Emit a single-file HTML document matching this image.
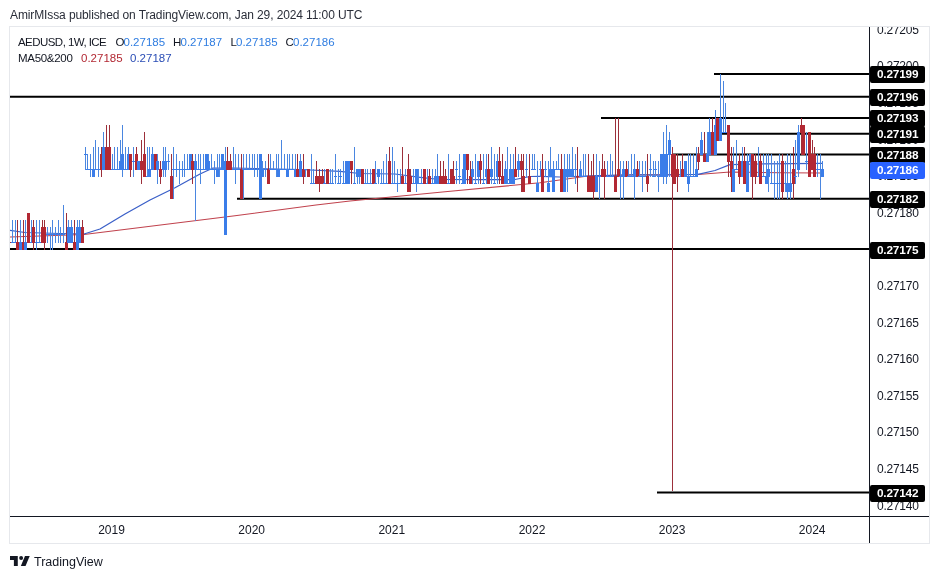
<!DOCTYPE html>
<html><head><meta charset="utf-8"><title>AEDUSD chart</title>
<style>
html,body{margin:0;padding:0;background:#fff;}
body{width:939px;height:579px;position:relative;overflow:hidden;font-family:"Liberation Sans","DejaVu Sans",sans-serif;color:#131722;}
.hdr{position:absolute;left:10px;top:7px;font-size:12px;line-height:16px;white-space:nowrap;letter-spacing:-0.11px;color:#2a2e39}
.frame{position:absolute;left:9px;top:26px;width:921px;height:518px;border:1px solid #e6e8ec;box-sizing:border-box;background:#fff}
.pane{position:absolute;left:10px;top:27px;width:860px;height:489px;overflow:hidden}
.axisv{position:absolute;left:869px;top:27px;width:1px;height:516px;background:#131722}
.axish{position:absolute;left:10px;top:516px;width:919px;height:1px;background:#131722}
.scale{position:absolute;left:870px;top:27px;width:58px;height:489px;overflow:hidden}
.pl{position:absolute;left:7px;width:48px;height:16px;line-height:16px;font-size:12px;letter-spacing:-0.25px;color:#131722;white-space:nowrap;margin-top:-27px}
.pb{position:absolute;left:0;width:55px;height:17px;line-height:17px;font-size:11.8px;font-weight:bold;color:#fff;background:#000;border-radius:2px;text-indent:7px;white-space:nowrap;margin-top:-27px;letter-spacing:-0.2px}
.pb.cur{background:#2962ff}
.yr{position:absolute;top:522px;width:40px;text-align:center;font-size:12px;line-height:16px}
.lg{position:absolute;font-size:11.5px;line-height:16px;white-space:nowrap;color:#131722}
.lg span{position:absolute;top:0}
.b1{color:#2f7de1} .r2{color:#b22833} .b2{color:#2a4db5}
.logo{position:absolute;left:10px;top:556px}
.tv{position:absolute;left:34px;top:553.5px;font-size:12.5px;line-height:16px;color:#131722;letter-spacing:0px}
</style></head><body>
<div class="hdr">AmirMIssa published on TradingView.com, Jan 29, 2024 11:00 UTC</div>
<div class="frame"></div>
<div class="pane">
<svg width="860" height="489" viewBox="10 27 860 489" style="position:absolute;left:0;top:0" shape-rendering="crispEdges">
<g shape-rendering="geometricPrecision">
<line x1="714" y1="74" x2="870" y2="74" stroke="#000" stroke-width="2"/>
<line x1="10" y1="96.8" x2="870" y2="96.8" stroke="#000" stroke-width="2"/>
<line x1="601" y1="118" x2="870" y2="118" stroke="#000" stroke-width="2"/>
<line x1="722" y1="133.8" x2="870" y2="133.8" stroke="#000" stroke-width="2"/>
<line x1="672" y1="154.6" x2="870" y2="154.6" stroke="#000" stroke-width="2"/>
<line x1="237" y1="198.8" x2="870" y2="198.8" stroke="#000" stroke-width="2"/>
<line x1="10" y1="249.1" x2="870" y2="249.1" stroke="#000" stroke-width="2"/>
<line x1="657" y1="492.4" x2="870" y2="492.4" stroke="#000" stroke-width="2"/>
<polyline points="10.0,237.0 84.0,234.5 235.0,215.8 316.0,205.0 350.0,201.0 445.0,191.8 540.0,182.8 588.0,176.0 635.0,174.8 698.0,174.5 730.0,172.0 780.0,172.8 822.0,173.0" fill="none" stroke="#c0424d" stroke-width="1.05" stroke-linejoin="round"/>
<polyline points="10.0,230.3 25.0,232.5 60.0,233.5 84.0,234.0 100.0,229.0 125.0,214.0 150.0,200.0 175.0,187.7 200.0,174.0 213.0,168.0 235.0,168.0 255.0,168.5 300.0,169.5 340.0,171.3 360.0,173.5 395.0,174.0 420.0,177.3 440.0,179.5 480.0,179.7 515.0,179.5 530.0,176.5 540.0,176.3 560.0,177.0 600.0,175.5 635.0,174.9 660.0,175.0 698.0,174.3 715.0,170.5 730.0,164.6 760.0,164.0 822.0,163.4" fill="none" stroke="#3a5fc8" stroke-width="1.25" stroke-linejoin="round"/>
</g>
<rect x="9" y="219.8" width="1" height="30.2" fill="#9c2f3a"/>
<rect x="8" y="241.7" width="3" height="1.0" fill="#b22833"/>
<rect x="12" y="219.8" width="1" height="22.9" fill="#4a86e0"/>
<rect x="11" y="241.7" width="3" height="1.0" fill="#3b7de9"/>
<rect x="15" y="219.8" width="1" height="22.9" fill="#4a86e0"/>
<rect x="14" y="241.7" width="3" height="1.0" fill="#3b7de9"/>
<rect x="17" y="219.8" width="1" height="30.2" fill="#9c2f3a"/>
<rect x="16" y="241.7" width="3" height="8.3" fill="#b22833"/>
<rect x="20" y="219.8" width="1" height="30.2" fill="#4a86e0"/>
<rect x="19" y="241.7" width="3" height="8.3" fill="#3b7de9"/>
<rect x="23" y="219.8" width="1" height="30.2" fill="#9c2f3a"/>
<rect x="22" y="241.7" width="3" height="8.3" fill="#b22833"/>
<rect x="25" y="219.8" width="1" height="30.2" fill="#4a86e0"/>
<rect x="24" y="241.7" width="3" height="8.3" fill="#3b7de9"/>
<rect x="28" y="212.5" width="1" height="30.2" fill="#9c2f3a"/>
<rect x="27" y="212.5" width="3" height="30.2" fill="#b22833"/>
<rect x="31" y="219.8" width="1" height="22.9" fill="#4a86e0"/>
<rect x="30" y="241.7" width="3" height="1.0" fill="#3b7de9"/>
<rect x="33" y="219.8" width="1" height="30.2" fill="#9c2f3a"/>
<rect x="32" y="227.1" width="3" height="15.6" fill="#b22833"/>
<rect x="36" y="219.8" width="1" height="30.2" fill="#4a86e0"/>
<rect x="35" y="241.7" width="3" height="1.0" fill="#3b7de9"/>
<rect x="39" y="219.8" width="1" height="22.9" fill="#4a86e0"/>
<rect x="38" y="241.7" width="3" height="1.0" fill="#3b7de9"/>
<rect x="42" y="219.8" width="1" height="22.9" fill="#9c2f3a"/>
<rect x="41" y="227.1" width="3" height="15.6" fill="#b22833"/>
<rect x="44" y="219.8" width="1" height="30.2" fill="#9c2f3a"/>
<rect x="43" y="227.1" width="3" height="15.6" fill="#b22833"/>
<rect x="47" y="227.1" width="1" height="15.6" fill="#4a86e0"/>
<rect x="46" y="234.4" width="3" height="1.0" fill="#3b7de9"/>
<rect x="50" y="227.1" width="1" height="22.9" fill="#4a86e0"/>
<rect x="49" y="234.4" width="3" height="1.0" fill="#3b7de9"/>
<rect x="52" y="219.8" width="1" height="30.2" fill="#4a86e0"/>
<rect x="51" y="234.4" width="3" height="1.0" fill="#3b7de9"/>
<rect x="55" y="227.1" width="1" height="15.6" fill="#4a86e0"/>
<rect x="54" y="234.4" width="3" height="1.0" fill="#3b7de9"/>
<rect x="58" y="219.8" width="1" height="22.9" fill="#4a86e0"/>
<rect x="57" y="234.4" width="3" height="1.0" fill="#3b7de9"/>
<rect x="60" y="227.1" width="1" height="15.6" fill="#4a86e0"/>
<rect x="59" y="234.4" width="3" height="1.0" fill="#3b7de9"/>
<rect x="63" y="205.2" width="1" height="37.5" fill="#4a86e0"/>
<rect x="62" y="234.4" width="3" height="1.0" fill="#3b7de9"/>
<rect x="66" y="212.5" width="1" height="37.5" fill="#9c2f3a"/>
<rect x="65" y="241.7" width="3" height="8.3" fill="#b22833"/>
<rect x="68" y="219.8" width="1" height="22.9" fill="#4a86e0"/>
<rect x="67" y="227.1" width="3" height="15.6" fill="#3b7de9"/>
<rect x="71" y="219.8" width="1" height="22.9" fill="#4a86e0"/>
<rect x="70" y="227.1" width="3" height="15.6" fill="#3b7de9"/>
<rect x="74" y="219.8" width="1" height="30.2" fill="#9c2f3a"/>
<rect x="73" y="241.7" width="3" height="8.3" fill="#b22833"/>
<rect x="77" y="219.8" width="1" height="30.2" fill="#4a86e0"/>
<rect x="76" y="227.1" width="3" height="22.9" fill="#3b7de9"/>
<rect x="79" y="219.8" width="1" height="22.9" fill="#4a86e0"/>
<rect x="78" y="227.1" width="3" height="15.6" fill="#3b7de9"/>
<rect x="82" y="219.8" width="1" height="22.9" fill="#9c2f3a"/>
<rect x="81" y="227.1" width="3" height="15.6" fill="#b22833"/>
<rect x="85" y="146.8" width="1" height="22.9" fill="#4a86e0"/>
<rect x="84" y="154.1" width="3" height="1.0" fill="#3b7de9"/>
<rect x="87" y="154.1" width="1" height="15.6" fill="#4a86e0"/>
<rect x="86" y="168.7" width="3" height="1.0" fill="#3b7de9"/>
<rect x="90" y="154.1" width="1" height="22.9" fill="#4a86e0"/>
<rect x="89" y="168.7" width="3" height="1.0" fill="#3b7de9"/>
<rect x="93" y="146.8" width="1" height="30.2" fill="#4a86e0"/>
<rect x="92" y="168.7" width="3" height="8.3" fill="#3b7de9"/>
<rect x="95" y="139.5" width="1" height="30.2" fill="#4a86e0"/>
<rect x="94" y="168.7" width="3" height="1.0" fill="#3b7de9"/>
<rect x="98" y="146.8" width="1" height="30.2" fill="#4a86e0"/>
<rect x="97" y="168.7" width="3" height="1.0" fill="#3b7de9"/>
<rect x="101" y="146.8" width="1" height="30.2" fill="#9c2f3a"/>
<rect x="100" y="154.1" width="3" height="15.6" fill="#b22833"/>
<rect x="103" y="132.2" width="1" height="37.5" fill="#4a86e0"/>
<rect x="102" y="146.8" width="3" height="22.9" fill="#3b7de9"/>
<rect x="106" y="124.9" width="1" height="44.8" fill="#9c2f3a"/>
<rect x="105" y="146.8" width="3" height="22.9" fill="#b22833"/>
<rect x="109" y="124.9" width="1" height="44.8" fill="#9c2f3a"/>
<rect x="108" y="146.8" width="3" height="22.9" fill="#b22833"/>
<rect x="112" y="154.1" width="1" height="15.6" fill="#4a86e0"/>
<rect x="111" y="168.7" width="3" height="1.0" fill="#3b7de9"/>
<rect x="114" y="146.8" width="1" height="22.9" fill="#4a86e0"/>
<rect x="113" y="168.7" width="3" height="1.0" fill="#3b7de9"/>
<rect x="117" y="146.8" width="1" height="22.9" fill="#4a86e0"/>
<rect x="116" y="168.7" width="3" height="1.0" fill="#3b7de9"/>
<rect x="120" y="139.5" width="1" height="30.2" fill="#4a86e0"/>
<rect x="119" y="161.4" width="3" height="8.3" fill="#3b7de9"/>
<rect x="122" y="124.9" width="1" height="52.1" fill="#4a86e0"/>
<rect x="121" y="154.1" width="3" height="15.6" fill="#3b7de9"/>
<rect x="125" y="146.8" width="1" height="22.9" fill="#4a86e0"/>
<rect x="124" y="168.7" width="3" height="1.0" fill="#3b7de9"/>
<rect x="128" y="146.8" width="1" height="22.9" fill="#4a86e0"/>
<rect x="127" y="154.1" width="3" height="15.6" fill="#3b7de9"/>
<rect x="130" y="154.1" width="1" height="22.9" fill="#9c2f3a"/>
<rect x="129" y="154.1" width="3" height="15.6" fill="#b22833"/>
<rect x="133" y="146.8" width="1" height="30.2" fill="#4a86e0"/>
<rect x="132" y="161.4" width="3" height="1.0" fill="#3b7de9"/>
<rect x="136" y="146.8" width="1" height="22.9" fill="#9c2f3a"/>
<rect x="135" y="154.1" width="3" height="15.6" fill="#b22833"/>
<rect x="138" y="161.4" width="1" height="8.3" fill="#4a86e0"/>
<rect x="137" y="161.4" width="3" height="8.3" fill="#3b7de9"/>
<rect x="141" y="139.5" width="1" height="44.8" fill="#9c2f3a"/>
<rect x="140" y="161.4" width="3" height="8.3" fill="#b22833"/>
<rect x="144" y="132.2" width="1" height="44.8" fill="#9c2f3a"/>
<rect x="143" y="154.1" width="3" height="22.9" fill="#b22833"/>
<rect x="147" y="146.8" width="1" height="30.2" fill="#4a86e0"/>
<rect x="146" y="176.0" width="3" height="1.0" fill="#3b7de9"/>
<rect x="149" y="146.8" width="1" height="30.2" fill="#4a86e0"/>
<rect x="148" y="168.7" width="3" height="8.3" fill="#3b7de9"/>
<rect x="152" y="146.8" width="1" height="22.9" fill="#4a86e0"/>
<rect x="151" y="154.1" width="3" height="15.6" fill="#3b7de9"/>
<rect x="155" y="154.1" width="1" height="15.6" fill="#9c2f3a"/>
<rect x="154" y="154.1" width="3" height="15.6" fill="#b22833"/>
<rect x="157" y="154.1" width="1" height="30.2" fill="#4a86e0"/>
<rect x="156" y="161.4" width="3" height="8.3" fill="#3b7de9"/>
<rect x="160" y="161.4" width="1" height="22.9" fill="#9c2f3a"/>
<rect x="159" y="168.7" width="3" height="8.3" fill="#b22833"/>
<rect x="163" y="146.8" width="1" height="30.2" fill="#4a86e0"/>
<rect x="162" y="161.4" width="3" height="8.3" fill="#3b7de9"/>
<rect x="165" y="146.8" width="1" height="30.2" fill="#4a86e0"/>
<rect x="164" y="161.4" width="3" height="8.3" fill="#3b7de9"/>
<rect x="168" y="154.1" width="1" height="15.6" fill="#4a86e0"/>
<rect x="167" y="161.4" width="3" height="1.0" fill="#3b7de9"/>
<rect x="171" y="154.1" width="1" height="44.8" fill="#9c2f3a"/>
<rect x="170" y="176.0" width="3" height="22.9" fill="#b22833"/>
<rect x="173" y="146.8" width="1" height="52.1" fill="#4a86e0"/>
<rect x="172" y="168.7" width="3" height="1.0" fill="#3b7de9"/>
<rect x="176" y="154.1" width="1" height="22.9" fill="#4a86e0"/>
<rect x="175" y="168.7" width="3" height="1.0" fill="#3b7de9"/>
<rect x="179" y="161.4" width="1" height="22.9" fill="#4a86e0"/>
<rect x="178" y="168.7" width="3" height="1.0" fill="#3b7de9"/>
<rect x="182" y="161.4" width="1" height="15.6" fill="#4a86e0"/>
<rect x="181" y="168.7" width="3" height="1.0" fill="#3b7de9"/>
<rect x="184" y="154.1" width="1" height="22.9" fill="#4a86e0"/>
<rect x="183" y="168.7" width="3" height="1.0" fill="#3b7de9"/>
<rect x="187" y="154.1" width="1" height="15.6" fill="#4a86e0"/>
<rect x="186" y="168.7" width="3" height="1.0" fill="#3b7de9"/>
<rect x="190" y="154.1" width="1" height="15.6" fill="#4a86e0"/>
<rect x="189" y="154.1" width="3" height="15.6" fill="#3b7de9"/>
<rect x="192" y="154.1" width="1" height="30.2" fill="#9c2f3a"/>
<rect x="191" y="161.4" width="3" height="8.3" fill="#b22833"/>
<rect x="195" y="154.1" width="1" height="66.7" fill="#4a86e0"/>
<rect x="194" y="161.4" width="3" height="8.3" fill="#3b7de9"/>
<rect x="198" y="154.1" width="1" height="15.6" fill="#4a86e0"/>
<rect x="197" y="168.7" width="3" height="1.0" fill="#3b7de9"/>
<rect x="200" y="154.1" width="1" height="30.2" fill="#4a86e0"/>
<rect x="199" y="168.7" width="3" height="1.0" fill="#3b7de9"/>
<rect x="203" y="154.1" width="1" height="15.6" fill="#4a86e0"/>
<rect x="202" y="168.7" width="3" height="1.0" fill="#3b7de9"/>
<rect x="206" y="154.1" width="1" height="15.6" fill="#4a86e0"/>
<rect x="205" y="154.1" width="3" height="15.6" fill="#3b7de9"/>
<rect x="208" y="154.1" width="1" height="15.6" fill="#4a86e0"/>
<rect x="207" y="161.4" width="3" height="8.3" fill="#3b7de9"/>
<rect x="211" y="154.1" width="1" height="15.6" fill="#4a86e0"/>
<rect x="210" y="168.7" width="3" height="1.0" fill="#3b7de9"/>
<rect x="214" y="161.4" width="1" height="22.9" fill="#4a86e0"/>
<rect x="213" y="168.7" width="3" height="1.0" fill="#3b7de9"/>
<rect x="217" y="154.1" width="1" height="22.9" fill="#4a86e0"/>
<rect x="216" y="168.7" width="3" height="8.3" fill="#3b7de9"/>
<rect x="219" y="154.1" width="1" height="22.9" fill="#4a86e0"/>
<rect x="218" y="168.7" width="3" height="1.0" fill="#3b7de9"/>
<rect x="222" y="154.1" width="1" height="15.6" fill="#4a86e0"/>
<rect x="221" y="154.1" width="3" height="15.6" fill="#3b7de9"/>
<rect x="225" y="146.8" width="1" height="88.6" fill="#4a86e0"/>
<rect x="224" y="161.4" width="3" height="74.0" fill="#3b7de9"/>
<rect x="227" y="146.8" width="1" height="22.9" fill="#9c2f3a"/>
<rect x="226" y="161.4" width="3" height="8.3" fill="#b22833"/>
<rect x="230" y="154.1" width="1" height="15.6" fill="#9c2f3a"/>
<rect x="229" y="161.4" width="3" height="8.3" fill="#b22833"/>
<rect x="233" y="146.8" width="1" height="22.9" fill="#4a86e0"/>
<rect x="232" y="168.7" width="3" height="1.0" fill="#3b7de9"/>
<rect x="235" y="154.1" width="1" height="30.2" fill="#4a86e0"/>
<rect x="234" y="168.7" width="3" height="1.0" fill="#3b7de9"/>
<rect x="238" y="154.1" width="1" height="15.6" fill="#4a86e0"/>
<rect x="237" y="168.7" width="3" height="1.0" fill="#3b7de9"/>
<rect x="241" y="154.1" width="1" height="44.8" fill="#9c2f3a"/>
<rect x="240" y="168.7" width="3" height="30.2" fill="#b22833"/>
<rect x="243" y="154.1" width="1" height="44.8" fill="#4a86e0"/>
<rect x="242" y="168.7" width="3" height="1.0" fill="#3b7de9"/>
<rect x="246" y="154.1" width="1" height="15.6" fill="#4a86e0"/>
<rect x="245" y="168.7" width="3" height="1.0" fill="#3b7de9"/>
<rect x="249" y="154.1" width="1" height="15.6" fill="#4a86e0"/>
<rect x="248" y="168.7" width="3" height="1.0" fill="#3b7de9"/>
<rect x="252" y="154.1" width="1" height="15.6" fill="#4a86e0"/>
<rect x="251" y="168.7" width="3" height="1.0" fill="#3b7de9"/>
<rect x="254" y="154.1" width="1" height="22.9" fill="#4a86e0"/>
<rect x="253" y="168.7" width="3" height="1.0" fill="#3b7de9"/>
<rect x="257" y="154.1" width="1" height="22.9" fill="#4a86e0"/>
<rect x="256" y="168.7" width="3" height="1.0" fill="#3b7de9"/>
<rect x="260" y="154.1" width="1" height="44.8" fill="#4a86e0"/>
<rect x="259" y="154.1" width="3" height="44.8" fill="#3b7de9"/>
<rect x="262" y="161.4" width="1" height="15.6" fill="#4a86e0"/>
<rect x="261" y="168.7" width="3" height="8.3" fill="#3b7de9"/>
<rect x="265" y="161.4" width="1" height="15.6" fill="#4a86e0"/>
<rect x="264" y="168.7" width="3" height="1.0" fill="#3b7de9"/>
<rect x="268" y="154.1" width="1" height="30.2" fill="#9c2f3a"/>
<rect x="267" y="168.7" width="3" height="15.6" fill="#b22833"/>
<rect x="270" y="154.1" width="1" height="15.6" fill="#4a86e0"/>
<rect x="269" y="168.7" width="3" height="1.0" fill="#3b7de9"/>
<rect x="273" y="161.4" width="1" height="8.3" fill="#4a86e0"/>
<rect x="272" y="168.7" width="3" height="1.0" fill="#3b7de9"/>
<rect x="276" y="154.1" width="1" height="22.9" fill="#4a86e0"/>
<rect x="275" y="168.7" width="3" height="1.0" fill="#3b7de9"/>
<rect x="278" y="154.1" width="1" height="22.9" fill="#4a86e0"/>
<rect x="277" y="168.7" width="3" height="8.3" fill="#3b7de9"/>
<rect x="281" y="139.5" width="1" height="30.2" fill="#4a86e0"/>
<rect x="280" y="168.7" width="3" height="1.0" fill="#3b7de9"/>
<rect x="284" y="154.1" width="1" height="15.6" fill="#4a86e0"/>
<rect x="283" y="168.7" width="3" height="1.0" fill="#3b7de9"/>
<rect x="287" y="154.1" width="1" height="22.9" fill="#4a86e0"/>
<rect x="286" y="168.7" width="3" height="8.3" fill="#3b7de9"/>
<rect x="289" y="154.1" width="1" height="15.6" fill="#4a86e0"/>
<rect x="288" y="168.7" width="3" height="1.0" fill="#3b7de9"/>
<rect x="292" y="154.1" width="1" height="15.6" fill="#4a86e0"/>
<rect x="291" y="168.7" width="3" height="1.0" fill="#3b7de9"/>
<rect x="295" y="154.1" width="1" height="22.9" fill="#4a86e0"/>
<rect x="294" y="168.7" width="3" height="8.3" fill="#3b7de9"/>
<rect x="297" y="154.1" width="1" height="22.9" fill="#9c2f3a"/>
<rect x="296" y="168.7" width="3" height="8.3" fill="#b22833"/>
<rect x="300" y="154.1" width="1" height="22.9" fill="#4a86e0"/>
<rect x="299" y="161.4" width="3" height="15.6" fill="#3b7de9"/>
<rect x="303" y="154.1" width="1" height="30.2" fill="#9c2f3a"/>
<rect x="302" y="168.7" width="3" height="8.3" fill="#b22833"/>
<rect x="305" y="168.7" width="1" height="8.3" fill="#4a86e0"/>
<rect x="304" y="168.7" width="3" height="1.0" fill="#3b7de9"/>
<rect x="308" y="168.7" width="1" height="8.3" fill="#9c2f3a"/>
<rect x="307" y="168.7" width="3" height="8.3" fill="#b22833"/>
<rect x="311" y="154.1" width="1" height="30.2" fill="#4a86e0"/>
<rect x="310" y="183.3" width="3" height="1.0" fill="#3b7de9"/>
<rect x="313" y="168.7" width="1" height="15.6" fill="#4a86e0"/>
<rect x="312" y="183.3" width="3" height="1.0" fill="#3b7de9"/>
<rect x="316" y="161.4" width="1" height="22.9" fill="#9c2f3a"/>
<rect x="315" y="176.0" width="3" height="8.3" fill="#b22833"/>
<rect x="319" y="168.7" width="1" height="22.9" fill="#9c2f3a"/>
<rect x="318" y="176.0" width="3" height="8.3" fill="#b22833"/>
<rect x="322" y="168.7" width="1" height="15.6" fill="#9c2f3a"/>
<rect x="321" y="176.0" width="3" height="8.3" fill="#b22833"/>
<rect x="324" y="168.7" width="1" height="15.6" fill="#4a86e0"/>
<rect x="323" y="183.3" width="3" height="1.0" fill="#3b7de9"/>
<rect x="327" y="168.7" width="1" height="15.6" fill="#9c2f3a"/>
<rect x="326" y="168.7" width="3" height="15.6" fill="#b22833"/>
<rect x="330" y="168.7" width="1" height="15.6" fill="#4a86e0"/>
<rect x="329" y="183.3" width="3" height="1.0" fill="#3b7de9"/>
<rect x="332" y="168.7" width="1" height="15.6" fill="#4a86e0"/>
<rect x="331" y="183.3" width="3" height="1.0" fill="#3b7de9"/>
<rect x="335" y="154.1" width="1" height="30.2" fill="#4a86e0"/>
<rect x="334" y="176.0" width="3" height="1.0" fill="#3b7de9"/>
<rect x="338" y="168.7" width="1" height="15.6" fill="#4a86e0"/>
<rect x="337" y="183.3" width="3" height="1.0" fill="#3b7de9"/>
<rect x="340" y="168.7" width="1" height="15.6" fill="#4a86e0"/>
<rect x="339" y="176.0" width="3" height="1.0" fill="#3b7de9"/>
<rect x="343" y="161.4" width="1" height="22.9" fill="#4a86e0"/>
<rect x="342" y="183.3" width="3" height="1.0" fill="#3b7de9"/>
<rect x="346" y="161.4" width="1" height="22.9" fill="#4a86e0"/>
<rect x="345" y="161.4" width="3" height="22.9" fill="#3b7de9"/>
<rect x="348" y="161.4" width="1" height="22.9" fill="#4a86e0"/>
<rect x="347" y="161.4" width="3" height="22.9" fill="#3b7de9"/>
<rect x="351" y="161.4" width="1" height="22.9" fill="#9c2f3a"/>
<rect x="350" y="161.4" width="3" height="8.3" fill="#b22833"/>
<rect x="354" y="146.8" width="1" height="37.5" fill="#4a86e0"/>
<rect x="353" y="183.3" width="3" height="1.0" fill="#3b7de9"/>
<rect x="357" y="168.7" width="1" height="15.6" fill="#4a86e0"/>
<rect x="356" y="168.7" width="3" height="8.3" fill="#3b7de9"/>
<rect x="359" y="168.7" width="1" height="15.6" fill="#4a86e0"/>
<rect x="358" y="168.7" width="3" height="8.3" fill="#3b7de9"/>
<rect x="362" y="168.7" width="1" height="15.6" fill="#9c2f3a"/>
<rect x="361" y="168.7" width="3" height="15.6" fill="#b22833"/>
<rect x="365" y="168.7" width="1" height="15.6" fill="#4a86e0"/>
<rect x="364" y="183.3" width="3" height="1.0" fill="#3b7de9"/>
<rect x="367" y="168.7" width="1" height="15.6" fill="#4a86e0"/>
<rect x="366" y="183.3" width="3" height="1.0" fill="#3b7de9"/>
<rect x="370" y="168.7" width="1" height="15.6" fill="#4a86e0"/>
<rect x="369" y="183.3" width="3" height="1.0" fill="#3b7de9"/>
<rect x="373" y="168.7" width="1" height="15.6" fill="#9c2f3a"/>
<rect x="372" y="168.7" width="3" height="15.6" fill="#b22833"/>
<rect x="375" y="161.4" width="1" height="22.9" fill="#4a86e0"/>
<rect x="374" y="183.3" width="3" height="1.0" fill="#3b7de9"/>
<rect x="378" y="168.7" width="1" height="15.6" fill="#4a86e0"/>
<rect x="377" y="168.7" width="3" height="8.3" fill="#3b7de9"/>
<rect x="381" y="168.7" width="1" height="15.6" fill="#4a86e0"/>
<rect x="380" y="183.3" width="3" height="1.0" fill="#3b7de9"/>
<rect x="383" y="161.4" width="1" height="22.9" fill="#4a86e0"/>
<rect x="382" y="183.3" width="3" height="1.0" fill="#3b7de9"/>
<rect x="386" y="154.1" width="1" height="30.2" fill="#4a86e0"/>
<rect x="385" y="183.3" width="3" height="1.0" fill="#3b7de9"/>
<rect x="389" y="146.8" width="1" height="37.5" fill="#9c2f3a"/>
<rect x="388" y="161.4" width="3" height="22.9" fill="#b22833"/>
<rect x="392" y="146.8" width="1" height="37.5" fill="#4a86e0"/>
<rect x="391" y="183.3" width="3" height="1.0" fill="#3b7de9"/>
<rect x="394" y="161.4" width="1" height="22.9" fill="#4a86e0"/>
<rect x="393" y="183.3" width="3" height="1.0" fill="#3b7de9"/>
<rect x="397" y="168.7" width="1" height="22.9" fill="#4a86e0"/>
<rect x="396" y="183.3" width="3" height="1.0" fill="#3b7de9"/>
<rect x="400" y="168.7" width="1" height="15.6" fill="#4a86e0"/>
<rect x="399" y="183.3" width="3" height="1.0" fill="#3b7de9"/>
<rect x="402" y="146.8" width="1" height="37.5" fill="#9c2f3a"/>
<rect x="401" y="176.0" width="3" height="8.3" fill="#b22833"/>
<rect x="405" y="168.7" width="1" height="15.6" fill="#4a86e0"/>
<rect x="404" y="183.3" width="3" height="1.0" fill="#3b7de9"/>
<rect x="408" y="154.1" width="1" height="37.5" fill="#9c2f3a"/>
<rect x="407" y="168.7" width="3" height="22.9" fill="#b22833"/>
<rect x="410" y="168.7" width="1" height="22.9" fill="#9c2f3a"/>
<rect x="409" y="176.0" width="3" height="8.3" fill="#b22833"/>
<rect x="413" y="168.7" width="1" height="15.6" fill="#4a86e0"/>
<rect x="412" y="183.3" width="3" height="1.0" fill="#3b7de9"/>
<rect x="416" y="168.7" width="1" height="22.9" fill="#4a86e0"/>
<rect x="415" y="168.7" width="3" height="15.6" fill="#3b7de9"/>
<rect x="418" y="168.7" width="1" height="15.6" fill="#4a86e0"/>
<rect x="417" y="183.3" width="3" height="1.0" fill="#3b7de9"/>
<rect x="421" y="168.7" width="1" height="15.6" fill="#4a86e0"/>
<rect x="420" y="183.3" width="3" height="1.0" fill="#3b7de9"/>
<rect x="424" y="168.7" width="1" height="15.6" fill="#9c2f3a"/>
<rect x="423" y="168.7" width="3" height="15.6" fill="#b22833"/>
<rect x="427" y="168.7" width="1" height="15.6" fill="#4a86e0"/>
<rect x="426" y="183.3" width="3" height="1.0" fill="#3b7de9"/>
<rect x="429" y="168.7" width="1" height="15.6" fill="#9c2f3a"/>
<rect x="428" y="176.0" width="3" height="8.3" fill="#b22833"/>
<rect x="432" y="168.7" width="1" height="15.6" fill="#4a86e0"/>
<rect x="431" y="183.3" width="3" height="1.0" fill="#3b7de9"/>
<rect x="435" y="168.7" width="1" height="15.6" fill="#4a86e0"/>
<rect x="434" y="176.0" width="3" height="8.3" fill="#3b7de9"/>
<rect x="437" y="154.1" width="1" height="30.2" fill="#4a86e0"/>
<rect x="436" y="176.0" width="3" height="8.3" fill="#3b7de9"/>
<rect x="440" y="161.4" width="1" height="22.9" fill="#9c2f3a"/>
<rect x="439" y="176.0" width="3" height="8.3" fill="#b22833"/>
<rect x="443" y="161.4" width="1" height="22.9" fill="#9c2f3a"/>
<rect x="442" y="176.0" width="3" height="8.3" fill="#b22833"/>
<rect x="445" y="168.7" width="1" height="15.6" fill="#9c2f3a"/>
<rect x="444" y="176.0" width="3" height="8.3" fill="#b22833"/>
<rect x="448" y="154.1" width="1" height="30.2" fill="#4a86e0"/>
<rect x="447" y="183.3" width="3" height="1.0" fill="#3b7de9"/>
<rect x="451" y="168.7" width="1" height="15.6" fill="#9c2f3a"/>
<rect x="450" y="168.7" width="3" height="15.6" fill="#b22833"/>
<rect x="453" y="161.4" width="1" height="22.9" fill="#9c2f3a"/>
<rect x="452" y="176.0" width="3" height="8.3" fill="#b22833"/>
<rect x="456" y="161.4" width="1" height="22.9" fill="#4a86e0"/>
<rect x="455" y="168.7" width="3" height="1.0" fill="#3b7de9"/>
<rect x="459" y="154.1" width="1" height="30.2" fill="#4a86e0"/>
<rect x="458" y="176.0" width="3" height="1.0" fill="#3b7de9"/>
<rect x="462" y="168.7" width="1" height="15.6" fill="#4a86e0"/>
<rect x="461" y="183.3" width="3" height="1.0" fill="#3b7de9"/>
<rect x="464" y="154.1" width="1" height="30.2" fill="#4a86e0"/>
<rect x="463" y="154.1" width="3" height="30.2" fill="#3b7de9"/>
<rect x="467" y="154.1" width="1" height="30.2" fill="#9c2f3a"/>
<rect x="466" y="154.1" width="3" height="15.6" fill="#b22833"/>
<rect x="470" y="161.4" width="1" height="22.9" fill="#9c2f3a"/>
<rect x="469" y="176.0" width="3" height="8.3" fill="#b22833"/>
<rect x="472" y="161.4" width="1" height="22.9" fill="#4a86e0"/>
<rect x="471" y="168.7" width="3" height="8.3" fill="#3b7de9"/>
<rect x="475" y="154.1" width="1" height="30.2" fill="#4a86e0"/>
<rect x="474" y="183.3" width="3" height="1.0" fill="#3b7de9"/>
<rect x="478" y="161.4" width="1" height="22.9" fill="#4a86e0"/>
<rect x="477" y="161.4" width="3" height="15.6" fill="#3b7de9"/>
<rect x="480" y="154.1" width="1" height="30.2" fill="#9c2f3a"/>
<rect x="479" y="161.4" width="3" height="8.3" fill="#b22833"/>
<rect x="483" y="154.1" width="1" height="30.2" fill="#4a86e0"/>
<rect x="482" y="183.3" width="3" height="1.0" fill="#3b7de9"/>
<rect x="486" y="154.1" width="1" height="30.2" fill="#4a86e0"/>
<rect x="485" y="168.7" width="3" height="8.3" fill="#3b7de9"/>
<rect x="488" y="154.1" width="1" height="30.2" fill="#9c2f3a"/>
<rect x="487" y="168.7" width="3" height="15.6" fill="#b22833"/>
<rect x="491" y="146.8" width="1" height="37.5" fill="#4a86e0"/>
<rect x="490" y="168.7" width="3" height="8.3" fill="#3b7de9"/>
<rect x="494" y="154.1" width="1" height="30.2" fill="#4a86e0"/>
<rect x="493" y="183.3" width="3" height="1.0" fill="#3b7de9"/>
<rect x="497" y="154.1" width="1" height="30.2" fill="#4a86e0"/>
<rect x="496" y="161.4" width="3" height="15.6" fill="#3b7de9"/>
<rect x="499" y="146.8" width="1" height="37.5" fill="#9c2f3a"/>
<rect x="498" y="161.4" width="3" height="15.6" fill="#b22833"/>
<rect x="502" y="154.1" width="1" height="30.2" fill="#9c2f3a"/>
<rect x="501" y="176.0" width="3" height="8.3" fill="#b22833"/>
<rect x="505" y="161.4" width="1" height="22.9" fill="#4a86e0"/>
<rect x="504" y="168.7" width="3" height="15.6" fill="#3b7de9"/>
<rect x="507" y="146.8" width="1" height="37.5" fill="#4a86e0"/>
<rect x="506" y="183.3" width="3" height="1.0" fill="#3b7de9"/>
<rect x="510" y="154.1" width="1" height="30.2" fill="#4a86e0"/>
<rect x="509" y="168.7" width="3" height="15.6" fill="#3b7de9"/>
<rect x="513" y="154.1" width="1" height="30.2" fill="#4a86e0"/>
<rect x="512" y="168.7" width="3" height="15.6" fill="#3b7de9"/>
<rect x="515" y="146.8" width="1" height="30.2" fill="#9c2f3a"/>
<rect x="514" y="168.7" width="3" height="8.3" fill="#b22833"/>
<rect x="518" y="154.1" width="1" height="22.9" fill="#4a86e0"/>
<rect x="517" y="161.4" width="3" height="8.3" fill="#3b7de9"/>
<rect x="521" y="154.1" width="1" height="37.5" fill="#9c2f3a"/>
<rect x="520" y="161.4" width="3" height="8.3" fill="#b22833"/>
<rect x="523" y="154.1" width="1" height="37.5" fill="#9c2f3a"/>
<rect x="522" y="176.0" width="3" height="15.6" fill="#b22833"/>
<rect x="526" y="154.1" width="1" height="22.9" fill="#4a86e0"/>
<rect x="525" y="168.7" width="3" height="1.0" fill="#3b7de9"/>
<rect x="529" y="154.1" width="1" height="30.2" fill="#9c2f3a"/>
<rect x="528" y="176.0" width="3" height="8.3" fill="#b22833"/>
<rect x="532" y="154.1" width="1" height="15.6" fill="#4a86e0"/>
<rect x="531" y="168.7" width="3" height="1.0" fill="#3b7de9"/>
<rect x="534" y="154.1" width="1" height="15.6" fill="#4a86e0"/>
<rect x="533" y="168.7" width="3" height="1.0" fill="#3b7de9"/>
<rect x="537" y="161.4" width="1" height="30.2" fill="#4a86e0"/>
<rect x="536" y="183.3" width="3" height="8.3" fill="#3b7de9"/>
<rect x="540" y="161.4" width="1" height="15.6" fill="#4a86e0"/>
<rect x="539" y="168.7" width="3" height="1.0" fill="#3b7de9"/>
<rect x="542" y="154.1" width="1" height="37.5" fill="#9c2f3a"/>
<rect x="541" y="168.7" width="3" height="22.9" fill="#b22833"/>
<rect x="545" y="161.4" width="1" height="15.6" fill="#4a86e0"/>
<rect x="544" y="168.7" width="3" height="1.0" fill="#3b7de9"/>
<rect x="548" y="161.4" width="1" height="30.2" fill="#4a86e0"/>
<rect x="547" y="183.3" width="3" height="8.3" fill="#3b7de9"/>
<rect x="550" y="146.8" width="1" height="30.2" fill="#4a86e0"/>
<rect x="549" y="168.7" width="3" height="8.3" fill="#3b7de9"/>
<rect x="553" y="161.4" width="1" height="30.2" fill="#4a86e0"/>
<rect x="552" y="168.7" width="3" height="22.9" fill="#3b7de9"/>
<rect x="556" y="161.4" width="1" height="8.3" fill="#4a86e0"/>
<rect x="555" y="168.7" width="3" height="1.0" fill="#3b7de9"/>
<rect x="558" y="154.1" width="1" height="15.6" fill="#4a86e0"/>
<rect x="557" y="168.7" width="3" height="1.0" fill="#3b7de9"/>
<rect x="561" y="154.1" width="1" height="37.5" fill="#9c2f3a"/>
<rect x="560" y="168.7" width="3" height="22.9" fill="#b22833"/>
<rect x="564" y="154.1" width="1" height="37.5" fill="#4a86e0"/>
<rect x="563" y="168.7" width="3" height="22.9" fill="#3b7de9"/>
<rect x="567" y="154.1" width="1" height="37.5" fill="#4a86e0"/>
<rect x="566" y="168.7" width="3" height="8.3" fill="#3b7de9"/>
<rect x="569" y="154.1" width="1" height="22.9" fill="#4a86e0"/>
<rect x="568" y="168.7" width="3" height="8.3" fill="#3b7de9"/>
<rect x="572" y="146.8" width="1" height="30.2" fill="#4a86e0"/>
<rect x="571" y="168.7" width="3" height="8.3" fill="#3b7de9"/>
<rect x="575" y="154.1" width="1" height="30.2" fill="#4a86e0"/>
<rect x="574" y="168.7" width="3" height="1.0" fill="#3b7de9"/>
<rect x="577" y="146.8" width="1" height="44.8" fill="#9c2f3a"/>
<rect x="576" y="176.0" width="3" height="1.0" fill="#b22833"/>
<rect x="580" y="161.4" width="1" height="15.6" fill="#4a86e0"/>
<rect x="579" y="168.7" width="3" height="8.3" fill="#3b7de9"/>
<rect x="583" y="154.1" width="1" height="22.9" fill="#4a86e0"/>
<rect x="582" y="176.0" width="3" height="1.0" fill="#3b7de9"/>
<rect x="585" y="154.1" width="1" height="22.9" fill="#4a86e0"/>
<rect x="584" y="176.0" width="3" height="1.0" fill="#3b7de9"/>
<rect x="588" y="154.1" width="1" height="37.5" fill="#9c2f3a"/>
<rect x="587" y="176.0" width="3" height="15.6" fill="#b22833"/>
<rect x="591" y="161.4" width="1" height="30.2" fill="#9c2f3a"/>
<rect x="590" y="176.0" width="3" height="15.6" fill="#b22833"/>
<rect x="593" y="154.1" width="1" height="44.8" fill="#9c2f3a"/>
<rect x="592" y="176.0" width="3" height="15.6" fill="#b22833"/>
<rect x="596" y="154.1" width="1" height="37.5" fill="#4a86e0"/>
<rect x="595" y="176.0" width="3" height="15.6" fill="#3b7de9"/>
<rect x="599" y="161.4" width="1" height="37.5" fill="#4a86e0"/>
<rect x="598" y="176.0" width="3" height="1.0" fill="#3b7de9"/>
<rect x="602" y="154.1" width="1" height="22.9" fill="#9c2f3a"/>
<rect x="601" y="168.7" width="3" height="8.3" fill="#b22833"/>
<rect x="604" y="161.4" width="1" height="37.5" fill="#9c2f3a"/>
<rect x="603" y="168.7" width="3" height="8.3" fill="#b22833"/>
<rect x="607" y="161.4" width="1" height="15.6" fill="#4a86e0"/>
<rect x="606" y="176.0" width="3" height="1.0" fill="#3b7de9"/>
<rect x="610" y="154.1" width="1" height="22.9" fill="#4a86e0"/>
<rect x="609" y="176.0" width="3" height="1.0" fill="#3b7de9"/>
<rect x="612" y="161.4" width="1" height="15.6" fill="#4a86e0"/>
<rect x="611" y="176.0" width="3" height="1.0" fill="#3b7de9"/>
<rect x="615" y="117.6" width="1" height="74.0" fill="#9c2f3a"/>
<rect x="614" y="176.0" width="3" height="15.6" fill="#b22833"/>
<rect x="618" y="117.6" width="1" height="59.4" fill="#9c2f3a"/>
<rect x="617" y="168.7" width="3" height="8.3" fill="#b22833"/>
<rect x="620" y="161.4" width="1" height="37.5" fill="#4a86e0"/>
<rect x="619" y="176.0" width="3" height="1.0" fill="#3b7de9"/>
<rect x="623" y="161.4" width="1" height="37.5" fill="#4a86e0"/>
<rect x="622" y="168.7" width="3" height="8.3" fill="#3b7de9"/>
<rect x="626" y="161.4" width="1" height="15.6" fill="#9c2f3a"/>
<rect x="625" y="168.7" width="3" height="8.3" fill="#b22833"/>
<rect x="628" y="161.4" width="1" height="15.6" fill="#4a86e0"/>
<rect x="627" y="176.0" width="3" height="1.0" fill="#3b7de9"/>
<rect x="631" y="154.1" width="1" height="22.9" fill="#4a86e0"/>
<rect x="630" y="176.0" width="3" height="1.0" fill="#3b7de9"/>
<rect x="634" y="154.1" width="1" height="44.8" fill="#4a86e0"/>
<rect x="633" y="168.7" width="3" height="8.3" fill="#3b7de9"/>
<rect x="637" y="161.4" width="1" height="15.6" fill="#9c2f3a"/>
<rect x="636" y="168.7" width="3" height="8.3" fill="#b22833"/>
<rect x="639" y="161.4" width="1" height="15.6" fill="#4a86e0"/>
<rect x="638" y="176.0" width="3" height="1.0" fill="#3b7de9"/>
<rect x="642" y="161.4" width="1" height="30.2" fill="#4a86e0"/>
<rect x="641" y="176.0" width="3" height="1.0" fill="#3b7de9"/>
<rect x="645" y="161.4" width="1" height="15.6" fill="#4a86e0"/>
<rect x="644" y="176.0" width="3" height="1.0" fill="#3b7de9"/>
<rect x="647" y="154.1" width="1" height="37.5" fill="#9c2f3a"/>
<rect x="646" y="176.0" width="3" height="8.3" fill="#b22833"/>
<rect x="650" y="154.1" width="1" height="22.9" fill="#4a86e0"/>
<rect x="649" y="168.7" width="3" height="1.0" fill="#3b7de9"/>
<rect x="653" y="161.4" width="1" height="15.6" fill="#4a86e0"/>
<rect x="652" y="176.0" width="3" height="1.0" fill="#3b7de9"/>
<rect x="655" y="161.4" width="1" height="15.6" fill="#4a86e0"/>
<rect x="654" y="168.7" width="3" height="1.0" fill="#3b7de9"/>
<rect x="658" y="161.4" width="1" height="30.2" fill="#4a86e0"/>
<rect x="657" y="176.0" width="3" height="1.0" fill="#3b7de9"/>
<rect x="661" y="154.1" width="1" height="22.9" fill="#4a86e0"/>
<rect x="660" y="154.1" width="3" height="22.9" fill="#3b7de9"/>
<rect x="663" y="132.2" width="1" height="52.1" fill="#4a86e0"/>
<rect x="662" y="154.1" width="3" height="22.9" fill="#3b7de9"/>
<rect x="666" y="124.9" width="1" height="59.4" fill="#4a86e0"/>
<rect x="665" y="154.1" width="3" height="22.9" fill="#3b7de9"/>
<rect x="669" y="132.2" width="1" height="44.8" fill="#4a86e0"/>
<rect x="668" y="139.5" width="3" height="15.6" fill="#3b7de9"/>
<rect x="672" y="146.8" width="1" height="344.1" fill="#9c2f3a"/>
<rect x="671" y="154.1" width="3" height="22.9" fill="#b22833"/>
<rect x="674" y="154.1" width="1" height="30.2" fill="#9c2f3a"/>
<rect x="673" y="154.1" width="3" height="30.2" fill="#b22833"/>
<rect x="677" y="154.1" width="1" height="37.5" fill="#9c2f3a"/>
<rect x="676" y="168.7" width="3" height="8.3" fill="#b22833"/>
<rect x="680" y="161.4" width="1" height="15.6" fill="#4a86e0"/>
<rect x="679" y="176.0" width="3" height="1.0" fill="#3b7de9"/>
<rect x="682" y="154.1" width="1" height="22.9" fill="#9c2f3a"/>
<rect x="681" y="168.7" width="3" height="8.3" fill="#b22833"/>
<rect x="685" y="161.4" width="1" height="15.6" fill="#4a86e0"/>
<rect x="684" y="161.4" width="3" height="15.6" fill="#3b7de9"/>
<rect x="688" y="154.1" width="1" height="37.5" fill="#4a86e0"/>
<rect x="687" y="176.0" width="3" height="8.3" fill="#3b7de9"/>
<rect x="690" y="154.1" width="1" height="22.9" fill="#4a86e0"/>
<rect x="689" y="176.0" width="3" height="1.0" fill="#3b7de9"/>
<rect x="693" y="154.1" width="1" height="22.9" fill="#4a86e0"/>
<rect x="692" y="176.0" width="3" height="1.0" fill="#3b7de9"/>
<rect x="696" y="146.8" width="1" height="30.2" fill="#4a86e0"/>
<rect x="695" y="168.7" width="3" height="8.3" fill="#3b7de9"/>
<rect x="698" y="146.8" width="1" height="22.9" fill="#9c2f3a"/>
<rect x="697" y="154.1" width="3" height="8.3" fill="#b22833"/>
<rect x="701" y="132.2" width="1" height="22.9" fill="#4a86e0"/>
<rect x="700" y="139.5" width="3" height="15.6" fill="#3b7de9"/>
<rect x="704" y="132.2" width="1" height="30.2" fill="#9c2f3a"/>
<rect x="703" y="154.1" width="3" height="8.3" fill="#b22833"/>
<rect x="707" y="132.2" width="1" height="30.2" fill="#4a86e0"/>
<rect x="706" y="154.1" width="3" height="8.3" fill="#3b7de9"/>
<rect x="709" y="117.6" width="1" height="37.5" fill="#4a86e0"/>
<rect x="708" y="132.2" width="3" height="22.9" fill="#3b7de9"/>
<rect x="712" y="117.6" width="1" height="37.5" fill="#9c2f3a"/>
<rect x="711" y="132.2" width="3" height="22.9" fill="#b22833"/>
<rect x="715" y="110.3" width="1" height="44.8" fill="#4a86e0"/>
<rect x="714" y="124.9" width="3" height="30.2" fill="#3b7de9"/>
<rect x="717" y="117.6" width="1" height="22.9" fill="#9c2f3a"/>
<rect x="716" y="117.6" width="3" height="22.9" fill="#b22833"/>
<rect x="720" y="73.8" width="1" height="66.7" fill="#4a86e0"/>
<rect x="719" y="117.6" width="3" height="22.9" fill="#3b7de9"/>
<rect x="723" y="81.1" width="1" height="52.1" fill="#4a86e0"/>
<rect x="722" y="132.2" width="3" height="1.0" fill="#3b7de9"/>
<rect x="725" y="103.0" width="1" height="30.2" fill="#4a86e0"/>
<rect x="724" y="132.2" width="3" height="1.0" fill="#3b7de9"/>
<rect x="728" y="124.9" width="1" height="52.1" fill="#9c2f3a"/>
<rect x="727" y="124.9" width="3" height="37.5" fill="#b22833"/>
<rect x="731" y="146.8" width="1" height="44.8" fill="#9c2f3a"/>
<rect x="730" y="161.4" width="3" height="15.6" fill="#b22833"/>
<rect x="733" y="146.8" width="1" height="44.8" fill="#4a86e0"/>
<rect x="732" y="168.7" width="3" height="22.9" fill="#3b7de9"/>
<rect x="736" y="139.5" width="1" height="30.2" fill="#4a86e0"/>
<rect x="735" y="168.7" width="3" height="1.0" fill="#3b7de9"/>
<rect x="739" y="154.1" width="1" height="30.2" fill="#9c2f3a"/>
<rect x="738" y="161.4" width="3" height="15.6" fill="#b22833"/>
<rect x="742" y="146.8" width="1" height="30.2" fill="#4a86e0"/>
<rect x="741" y="161.4" width="3" height="15.6" fill="#3b7de9"/>
<rect x="744" y="146.8" width="1" height="37.5" fill="#9c2f3a"/>
<rect x="743" y="161.4" width="3" height="22.9" fill="#b22833"/>
<rect x="747" y="154.1" width="1" height="37.5" fill="#4a86e0"/>
<rect x="746" y="161.4" width="3" height="30.2" fill="#3b7de9"/>
<rect x="750" y="154.1" width="1" height="22.9" fill="#4a86e0"/>
<rect x="749" y="154.1" width="3" height="8.3" fill="#3b7de9"/>
<rect x="752" y="154.1" width="1" height="44.8" fill="#9c2f3a"/>
<rect x="751" y="154.1" width="3" height="22.9" fill="#b22833"/>
<rect x="755" y="154.1" width="1" height="30.2" fill="#9c2f3a"/>
<rect x="754" y="161.4" width="3" height="15.6" fill="#b22833"/>
<rect x="758" y="146.8" width="1" height="30.2" fill="#4a86e0"/>
<rect x="757" y="176.0" width="3" height="1.0" fill="#3b7de9"/>
<rect x="760" y="154.1" width="1" height="30.2" fill="#9c2f3a"/>
<rect x="759" y="161.4" width="3" height="22.9" fill="#b22833"/>
<rect x="763" y="154.1" width="1" height="22.9" fill="#4a86e0"/>
<rect x="762" y="176.0" width="3" height="1.0" fill="#3b7de9"/>
<rect x="766" y="154.1" width="1" height="30.2" fill="#4a86e0"/>
<rect x="765" y="176.0" width="3" height="8.3" fill="#3b7de9"/>
<rect x="768" y="154.1" width="1" height="37.5" fill="#4a86e0"/>
<rect x="767" y="168.7" width="3" height="8.3" fill="#3b7de9"/>
<rect x="771" y="154.1" width="1" height="30.2" fill="#4a86e0"/>
<rect x="770" y="183.3" width="3" height="1.0" fill="#3b7de9"/>
<rect x="774" y="161.4" width="1" height="37.5" fill="#4a86e0"/>
<rect x="773" y="183.3" width="3" height="1.0" fill="#3b7de9"/>
<rect x="777" y="161.4" width="1" height="37.5" fill="#4a86e0"/>
<rect x="776" y="183.3" width="3" height="1.0" fill="#3b7de9"/>
<rect x="779" y="154.1" width="1" height="44.8" fill="#4a86e0"/>
<rect x="778" y="183.3" width="3" height="1.0" fill="#3b7de9"/>
<rect x="782" y="154.1" width="1" height="44.8" fill="#9c2f3a"/>
<rect x="781" y="161.4" width="3" height="30.2" fill="#b22833"/>
<rect x="785" y="161.4" width="1" height="30.2" fill="#4a86e0"/>
<rect x="784" y="183.3" width="3" height="1.0" fill="#3b7de9"/>
<rect x="787" y="154.1" width="1" height="44.8" fill="#4a86e0"/>
<rect x="786" y="183.3" width="3" height="8.3" fill="#3b7de9"/>
<rect x="790" y="154.1" width="1" height="44.8" fill="#4a86e0"/>
<rect x="789" y="183.3" width="3" height="8.3" fill="#3b7de9"/>
<rect x="793" y="146.8" width="1" height="52.1" fill="#9c2f3a"/>
<rect x="792" y="168.7" width="3" height="15.6" fill="#b22833"/>
<rect x="795" y="139.5" width="1" height="44.8" fill="#4a86e0"/>
<rect x="794" y="176.0" width="3" height="1.0" fill="#3b7de9"/>
<rect x="798" y="124.9" width="1" height="52.1" fill="#4a86e0"/>
<rect x="797" y="132.2" width="3" height="37.5" fill="#3b7de9"/>
<rect x="801" y="117.6" width="1" height="37.5" fill="#9c2f3a"/>
<rect x="800" y="124.9" width="3" height="8.3" fill="#b22833"/>
<rect x="803" y="124.9" width="1" height="30.2" fill="#9c2f3a"/>
<rect x="802" y="124.9" width="3" height="30.2" fill="#b22833"/>
<rect x="806" y="132.2" width="1" height="37.5" fill="#4a86e0"/>
<rect x="805" y="161.4" width="3" height="1.0" fill="#3b7de9"/>
<rect x="809" y="132.2" width="1" height="44.8" fill="#9c2f3a"/>
<rect x="808" y="132.2" width="3" height="44.8" fill="#b22833"/>
<rect x="812" y="139.5" width="1" height="30.2" fill="#9c2f3a"/>
<rect x="811" y="154.1" width="3" height="15.6" fill="#b22833"/>
<rect x="814" y="146.8" width="1" height="30.2" fill="#9c2f3a"/>
<rect x="813" y="154.1" width="3" height="22.9" fill="#b22833"/>
<rect x="817" y="154.1" width="1" height="22.9" fill="#4a86e0"/>
<rect x="816" y="168.7" width="3" height="1.0" fill="#3b7de9"/>
<rect x="820" y="154.1" width="1" height="44.8" fill="#4a86e0"/>
<rect x="819" y="168.7" width="3" height="1.0" fill="#3b7de9"/>
<rect x="822" y="161.4" width="1" height="15.6" fill="#4a86e0"/>
<rect x="821" y="168.7" width="3" height="8.3" fill="#3b7de9"/>
</svg>
</div>
<div class="lg" style="left:18px;top:34px"><span style="left:0;letter-spacing:-0.55px">AEDUSD, 1W, ICE</span><span style="left:97.5px;letter-spacing:-1px">O</span><span class="b1" style="left:105.5px">0.27185</span><span style="left:155px;letter-spacing:-1px">H</span><span class="b1" style="left:162.5px">0.27187</span><span style="left:212.5px">L</span><span class="b1" style="left:218px">0.27185</span><span style="left:267.5px;letter-spacing:-1px">C</span><span class="b1" style="left:275px">0.27186</span></div>
<div class="lg" style="left:18px;top:50px"><span style="left:0;letter-spacing:-0.3px">MA50&amp;200</span><span class="r2" style="left:63px">0.27185</span><span class="b2" style="left:112px">0.27187</span></div>
<div class="scale">
<div class="pl" style="top:497.6px">0.27140</div>
<div class="pl" style="top:461.0px">0.27145</div>
<div class="pl" style="top:424.4px">0.27150</div>
<div class="pl" style="top:387.8px">0.27155</div>
<div class="pl" style="top:351.2px">0.27160</div>
<div class="pl" style="top:314.6px">0.27165</div>
<div class="pl" style="top:278.0px">0.27170</div>
<div class="pl" style="top:241.4px">0.27175</div>
<div class="pl" style="top:204.8px">0.27180</div>
<div class="pl" style="top:168.2px">0.27185</div>
<div class="pl" style="top:131.6px">0.27190</div>
<div class="pl" style="top:95.0px">0.27195</div>
<div class="pl" style="top:58.4px">0.27200</div>
<div class="pl" style="top:21.8px">0.27205</div>
<div class="pb" style="top:66px">0.27199</div>
<div class="pb" style="top:89px">0.27196</div>
<div class="pb" style="top:110px">0.27193</div>
<div class="pb" style="top:126px">0.27191</div>
<div class="pb" style="top:147px">0.27188</div>
<div class="pb" style="top:191px">0.27182</div>
<div class="pb" style="top:242px">0.27175</div>
<div class="pb" style="top:485px">0.27142</div>
<div class="pb cur" style="top:162px">0.27186</div>
</div>
<div class="axisv"></div>
<div class="axish"></div>
<div class="yr" style="left:91.5px">2019</div>
<div class="yr" style="left:231.7px">2020</div>
<div class="yr" style="left:371.8px">2021</div>
<div class="yr" style="left:512.0px">2022</div>
<div class="yr" style="left:652.1px">2023</div>
<div class="yr" style="left:792.2px">2024</div>
<svg class="logo" width="20" height="10" viewBox="0 0 36 18"><path d="M14 18H7V7H0V0h14v18z" fill="#131722"/><circle cx="20" cy="3.5" r="3.5" fill="#131722"/><path d="M28 18h-8.5L27 0h8.5L28 18z" fill="#131722"/></svg>
<div class="tv">TradingView</div>
</body></html>
